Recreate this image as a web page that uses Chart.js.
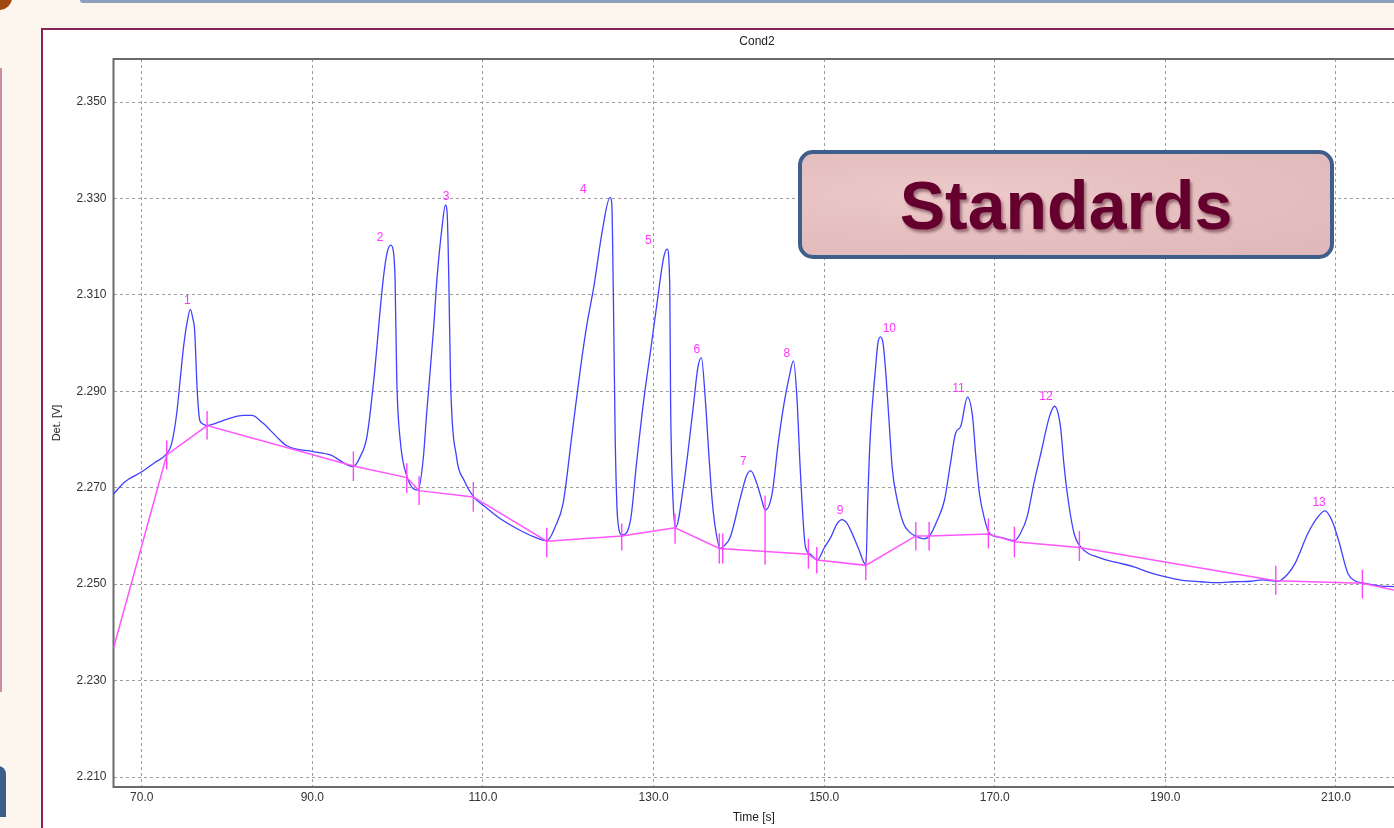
<!DOCTYPE html>
<html>
<head>
<meta charset="utf-8">
<script src="https://cdn.jsdelivr.net/npm/chart.js@4.4.1/dist/chart.umd.min.js"></script>
<style>
html,body{margin:0;padding:0;width:1394px;height:828px;overflow:hidden;background:#fcf6ef;font-family:"Liberation Sans",Arial,sans-serif;}
#corner{position:absolute;left:-14px;top:-14px;width:26px;height:24px;border-radius:50%;background:#a2480f;}
#topbar{position:absolute;left:80px;top:0;width:1400px;height:3px;background:#8c9fbd;border-bottom-left-radius:3px;}
#leftstrip{position:absolute;left:0;top:68px;width:2px;height:624px;background:#c98ea6;}
#leftblue{position:absolute;left:-8px;top:766px;width:14px;height:51px;background:#3c5d87;border-top-right-radius:8px;}
#panel{position:absolute;left:41px;top:28px;width:1420px;height:860px;background:#ffffff;border-left:2px solid #862457;border-top:2px solid #862457;}
#wrap{position:absolute;left:0;top:0;width:1394px;height:828px;}
#std{position:absolute;left:798px;top:150px;width:528px;height:101px;border:4px solid #3e5f8b;border-radius:15px;
 background:radial-gradient(ellipse at 30% 40%,#ecc9ca 0%,#e6c0c1 45%,#dfb7b8 100%);
 display:flex;align-items:center;justify-content:center;font-weight:bold;font-size:68px;color:#65002e;
 text-shadow:2px 3px 3px rgba(60,0,20,0.45);letter-spacing:0px;z-index:5;}
</style>
</head>
<body>
<div id="corner"></div>
<div id="topbar"></div>
<div id="leftstrip"></div>
<div id="leftblue"></div>
<div id="panel"></div>
<div id="wrap"><canvas id="c" width="1394" height="828"></canvas></div>
<div id="std">Standards</div>
<script>
// ---- axis ticks ----
const timeTicks = [70, 90, 110, 130, 150, 170, 190, 210];
const detTicks = [2.210, 2.230, 2.250, 2.270, 2.290, 2.310, 2.330, 2.350];

// ---- detector signal (blue trace) ----
const traceTime = [66.7,68.0,70.0,71.5,72.9,73.5,74.1,74.5,74.9,75.3,75.7,76.0,76.2,76.5,76.8,77.2,77.6,79.2,80.5,81.9,82.9,84.2,85.8,87.0,90.1,92.1,94.8,95.6,96.4,97.2,98.3,98.8,99.2,99.5,99.7,99.9,100.3,101.1,102.4,103.0,103.4,104.2,104.6,105.2,105.6,105.8,106.0,106.2,106.9,107.8,108.9,110.3,112.0,114.0,116.0,117.5,118.5,119.4,120.4,121.4,122.2,123.0,124.0,124.9,125.1,125.3,125.5,125.8,126.3,127.3,128.0,128.8,129.6,130.4,131.2,131.6,131.9,132.0,132.3,132.6,133.5,134.1,134.7,135.2,135.6,136.1,136.5,136.9,137.3,137.8,138.3,139.0,140.2,140.9,141.4,142.1,142.6,143.1,143.9,144.6,145.3,145.9,146.4,146.8,147.2,147.8,148.4,149.2,150.0,150.8,151.5,152.1,152.6,153.1,154.0,154.9,155.1,155.4,156.0,156.3,156.6,156.9,157.2,157.6,158.0,158.5,159.3,160.0,160.7,161.7,162.4,163.2,164.1,164.8,165.4,166.0,166.8,167.4,167.8,168.2,168.8,169.4,170.7,172.3,173.0,173.8,174.6,175.4,176.4,177.0,177.7,178.1,178.5,179.3,180.1,182.4,184.3,186.3,188.0,189.8,192.0,194.2,196.0,198.1,200.0,201.3,203.2,204.3,205.2,206.7,207.9,208.7,209.5,210.3,211.4,212.2,213.0,215.3,216.8];
const traceDet = [2.2687,2.2712,2.2733,2.2752,2.2770,2.2791,2.2854,2.2923,2.2992,2.3041,2.3070,2.3050,2.3027,2.2903,2.2840,2.2832,2.2829,2.2837,2.2845,2.2850,2.2850,2.2834,2.2806,2.2787,2.2775,2.2768,2.2744,2.2764,2.2806,2.2923,2.3131,2.3190,2.3203,2.3190,2.3131,2.2923,2.2799,2.2723,2.2695,2.2760,2.2854,2.3027,2.3131,2.3240,2.3286,2.3270,2.3131,2.2923,2.2764,2.2715,2.2681,2.2660,2.2636,2.2615,2.2598,2.2590,2.2620,2.2668,2.2805,2.2944,2.3040,2.3117,2.3234,2.3302,2.3290,2.3082,2.2806,2.2633,2.2602,2.2633,2.2750,2.2875,2.2978,2.3082,2.3179,2.3195,2.3117,2.2875,2.2668,2.2618,2.2702,2.2784,2.2875,2.2950,2.2970,2.2875,2.2764,2.2668,2.2610,2.2574,2.2580,2.2598,2.2681,2.2725,2.2735,2.2709,2.2680,2.2654,2.2688,2.2791,2.2875,2.2930,2.2963,2.2889,2.2737,2.2578,2.2562,2.2550,2.2575,2.2598,2.2625,2.2634,2.2628,2.2612,2.2575,2.2540,2.2667,2.2806,2.2944,2.3000,2.3013,2.3000,2.2944,2.2840,2.2737,2.2680,2.2626,2.2608,2.2600,2.2594,2.2601,2.2630,2.2674,2.2750,2.2813,2.2827,2.2888,2.2847,2.2760,2.2688,2.2635,2.2605,2.2597,2.2590,2.2605,2.2640,2.2710,2.2771,2.2847,2.2869,2.2827,2.2750,2.2688,2.2605,2.2577,2.2554,2.2545,2.2536,2.2525,2.2516,2.2508,2.2505,2.2503,2.2505,2.2506,2.2509,2.2506,2.2520,2.2543,2.2605,2.2640,2.2652,2.2633,2.2591,2.2522,2.2507,2.2503,2.2496,2.2495];

// ---- integration baseline (magenta) ----
const baseTime = [66.69,72.93,77.66,94.81,101.07,102.51,108.87,117.48,126.27,132.52,137.71,148.15,149.13,154.88,160.74,162.30,169.25,172.30,179.92,202.94,213.09,216.8];
const baseDet  = [2.2367,2.2768,2.2829,2.2745,2.2721,2.2694,2.2681,2.2589,2.2600,2.2617,2.2574,2.2562,2.2550,2.2539,2.2600,2.2600,2.2604,2.2588,2.2576,2.2507,2.2502,2.2488];

// ---- integration marks (vertical magenta ticks) ----
const markTime   = [72.93,77.66,94.81,101.07,102.51,108.87,117.48,126.27,132.52,137.71,138.11,143.07,148.15,149.13,154.88,160.74,162.30,169.25,172.30,179.92,202.94,213.09];
const markTop    = [2.2798,2.2859,2.2775,2.2751,2.2724,2.2712,2.2617,2.2626,2.2646,2.2605,2.2605,2.2684,2.2594,2.2577,2.2556,2.2629,2.2629,2.2636,2.2619,2.2610,2.2538,2.2530];
const markBottom = [2.2738,2.2800,2.2714,2.2689,2.2664,2.2650,2.2556,2.2570,2.2584,2.2543,2.2543,2.2540,2.2532,2.2522,2.2508,2.2570,2.2570,2.2574,2.2556,2.2548,2.2478,2.2470];

// ---- peak labels ----
const peakNames = ['1','2','3','4','5','6','7','8','9','10','11','12','13'];
const peakTime  = [75.35,97.94,105.67,121.77,129.39,135.07,140.53,145.62,151.86,157.64,165.74,176.01,208.02];
const peakDet   = [2.3087,2.3219,2.3304,2.3318,2.3213,2.2987,2.2755,2.2979,2.2652,2.3030,2.2906,2.2888,2.2668];

const FONT = '"Liberation Sans", Arial, sans-serif';

const traceData = traceTime.map((t, i) => ({x: t, y: traceDet[i]}));
const baseData = baseTime.map((t, i) => ({x: t, y: baseDet[i]}));
const markData = [];
markTime.forEach((t, i) => {
  markData.push({x: t, y: markTop[i]});
  markData.push({x: t, y: markBottom[i]});
  markData.push({x: t, y: null});
});

const framePlugin = {
  id: 'frame',
  beforeDatasetsDraw(chart) {
    const {ctx, chartArea: a} = chart;
    ctx.save();
    ctx.strokeStyle = '#6a6a6a';
    ctx.lineWidth = 2;
    ctx.beginPath();
    ctx.moveTo(a.left, a.top); ctx.lineTo(a.right + 5, a.top);
    ctx.moveTo(a.left, a.top - 1); ctx.lineTo(a.left, a.bottom);
    ctx.lineTo(a.right + 5, a.bottom);
    ctx.stroke();
    ctx.restore();
  },
  afterDraw(chart) {
    const {ctx} = chart;
    const xs = chart.scales.x, ys = chart.scales.y;
    ctx.save();
    ctx.fillStyle = '#222';
    ctx.font = '12px ' + FONT;
    ctx.textAlign = 'center';
    ctx.textBaseline = 'middle';
    ctx.fillText('Cond2', 757, 42);
    ctx.fillStyle = '#ff33ff';
    ctx.font = '12px ' + FONT;
    peakNames.forEach((n, i) => {
      ctx.fillText(n, xs.getPixelForValue(peakTime[i]), ys.getPixelForValue(peakDet[i]));
    });
    ctx.restore();
  }
};

new Chart(document.getElementById('c'), {
  type: 'line',
  data: {
    datasets: [
      {data: markData, borderColor: '#ff44ff', borderWidth: 1.4, pointRadius: 0, spanGaps: false, tension: 0},
      {data: baseData, borderColor: '#ff55ff', borderWidth: 1.5, pointRadius: 0, tension: 0},
      {data: traceData, borderColor: '#4040ff', borderWidth: 1.3, pointRadius: 0, cubicInterpolationMode: 'monotone'}
    ]
  },
  options: {
    responsive: false,
    animation: false,
    events: [],
    layout: {padding: {top: 59, left: 0, right: 0, bottom: 0}},
    plugins: {legend: {display: false}, tooltip: {enabled: false}, title: {display: false}},
    scales: {
      x: {
        type: 'linear',
        min: 66.69,
        max: 216.8,
        afterBuildTicks: s => { s.ticks = timeTicks.map(v => ({value: v})); },
        afterFit: s => { s.height = 41; },
        ticks: {callback: v => Number(v).toFixed(1), color: '#333', font: {family: FONT, size: 12}, padding: 3, maxRotation: 0, autoSkip: false},
        grid: {color: '#9c9c9c', lineWidth: 1, drawTicks: false},
        border: {display: false, dash: [3, 3]},
        title: {display: true, text: 'Time [s]', color: '#222', font: {family: FONT, size: 12}, padding: {top: 0, bottom: 3}}
      },
      y: {
        type: 'linear',
        min: 2.20793,
        max: 2.35892,
        afterBuildTicks: s => { s.ticks = detTicks.map(v => ({value: v})); },
        afterFit: s => { s.width = 113.5; },
        ticks: {callback: v => Number(v).toFixed(3), color: '#333', font: {family: FONT, size: 12}, padding: 7, autoSkip: false},
        grid: {color: '#9c9c9c', lineWidth: 1, drawTicks: false},
        border: {display: false, dash: [3, 3]},
        title: {display: true, text: 'Det. [V]', color: '#222', font: {family: FONT, size: 11}, padding: {top: 50, bottom: 0}}
      }
    }
  },
  plugins: [framePlugin]
});
</script>
</body>
</html>
